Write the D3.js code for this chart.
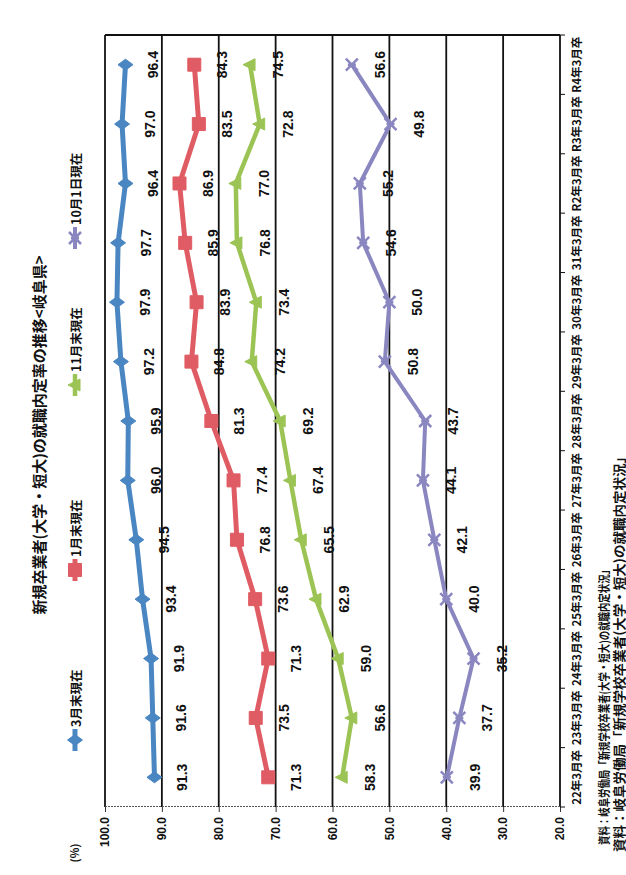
<!DOCTYPE html>
<html>
<head>
<meta charset="utf-8">
<title>新規卒業者の就職内定率の推移</title>
<script src="https://cdn.jsdelivr.net/npm/d3@7"></script>
<style>
  body { margin: 0; background: #fff; }
  text { font-family: "Noto Sans CJK JP", "Liberation Sans", sans-serif; font-weight: bold; fill: #111; }
  .num { font-family: "Liberation Sans Narrow", "Liberation Sans", Arial, sans-serif; }
</style>
</head>
<body>
<script>
// categories (graduation year) and series values
var categories = ["22年3月卒", "23年3月卒", "24年3月卒", "25年3月卒", "26年3月卒", "27年3月卒", "28年3月卒",
                  "29年3月卒", "30年3月卒", "31年3月卒", "R2年3月卒", "R3年3月卒", "R4年3月卒"];
var march = [91.3, 91.6, 91.9, 93.4, 94.5, 96.0, 95.9, 97.2, 97.9, 97.7, 96.4, 97.0, 96.4];
var january = [71.3, 73.5, 71.3, 73.6, 76.8, 77.4, 81.3, 84.8, 83.9, 85.9, 86.9, 83.5, 84.3];
var november = [58.3, 56.6, 59.0, 62.9, 65.5, 67.4, 69.2, 74.2, 73.4, 76.8, 77.0, 72.8, 74.5];
var october = [39.9, 37.7, 35.2, 40.0, 42.1, 44.1, 43.7, 50.8, 50.0, 54.6, 55.2, 49.8, 56.6];
var seriesNames = ["3月末現在", "1月末現在", "11月末現在", "10月1日現在"];
var yTicks = [20, 30, 40, 50, 60, 70, 80, 90, 100];

var seriesData = [march, january, november, october];
var colors = ["#4a86c1", "#e05c64", "#9cc455", "#8a86c0"];
var widths = [5, 5, 4.5, 4];
var markers = ["diamond", "square", "triangle", "x"];

// the scanned chart is turned on its side: draw it upright, then rotate
var W = 875, H = 626;
var margin = {top: 105, right: 35, bottom: 66, left: 68};
var plotW = W - margin.left - margin.right,
    plotH = H - margin.top - margin.bottom;

var svg = d3.select("body").append("svg")
  .attr("width", 626)
  .attr("height", 875);

svg.append("rect").attr("width", 626).attr("height", 875).attr("fill", "#fff");

var root = svg.append("g")
  .attr("transform", "translate(0," + W + ") rotate(-90)");

var g = root.append("g")
  .attr("transform", "translate(" + margin.left + "," + margin.top + ")");

var x = d3.scaleBand().domain(categories).range([0, plotW]);
var y = d3.scaleLinear().domain([20, 100]).range([plotH, 0]);
function cx(i) { return x(categories[i]) + x.bandwidth() / 2; }

// gridlines
g.selectAll(".grid").data(yTicks).enter().append("line")
  .attr("x1", 0).attr("x2", plotW)
  .attr("y1", function(d) { return y(d); })
  .attr("y2", function(d) { return y(d); })
  .attr("stroke", "#111").attr("stroke-width", 1.8);

// frame edge
g.append("line").attr("x1", plotW).attr("x2", plotW).attr("y1", 0).attr("y2", plotH)
  .attr("stroke", "#111").attr("stroke-width", 1.8);

// value axis
var yAxis = d3.axisLeft(y).tickValues(yTicks).tickFormat(d3.format(".1f")).tickSize(5).tickPadding(5);
var ya = g.append("g").call(yAxis);
ya.select(".domain").attr("stroke", "#555").attr("stroke-width", 1).attr("stroke-dasharray", "2,1");
ya.selectAll(".tick line").attr("stroke", "#333");
ya.selectAll("text").attr("class", "num").style("font-size", "12px").style("font-weight", "bold").attr("fill", "#111");

// category axis: ticks on band edges, labels at centres
var edges = categories.map(function(c) { return x(c); }).concat([plotW]);
g.selectAll(".ctick").data(edges).enter().append("line")
  .attr("x1", function(d) { return d; }).attr("x2", function(d) { return d; })
  .attr("y1", plotH).attr("y2", plotH + 5)
  .attr("stroke", "#111").attr("stroke-width", 1);
g.selectAll(".clab").data(categories).enter().append("text")
  .attr("x", function(d) { return x(d) + x.bandwidth() / 2; })
  .attr("y", plotH + 21)
  .attr("text-anchor", "middle")
  .style("font-size", "11.5px")
  .text(function(d) { return d; });

// marker shapes
function markerPath(type) {
  if (type === "diamond") return "M0,-7.5L5.5,0L0,7.5L-5.5,0Z";
  if (type === "square") return "M-6.5,-6.5H6.5V6.5H-6.5Z";
  if (type === "triangle") return "M0,-7L6,5H-6Z";
  return "M-6,-6L6,6M6,-6L-6,6M0,-4V4";
}
function drawMarker(sel, type, color) {
  var p = sel.append("path").attr("d", markerPath(type));
  if (type === "x") p.attr("fill", "none").attr("stroke", color).attr("stroke-width", 2.5);
  else p.attr("fill", color).attr("stroke", color).attr("stroke-width", 1);
}

var line = d3.line()
  .x(function(d, i) { return cx(i); })
  .y(function(d) { return y(d); });

seriesData.forEach(function(vals, s) {
  g.append("path")
    .attr("d", line(vals))
    .attr("fill", "none")
    .attr("stroke", colors[s])
    .attr("stroke-width", widths[s])
    .attr("stroke-linejoin", "round");
  vals.forEach(function(v, i) {
    var m = g.append("g").attr("transform", "translate(" + cx(i) + "," + y(v) + ")");
    drawMarker(m, markers[s], colors[s]);
  });
  // data labels sit below each point
  g.selectAll(".lab" + s).data(vals).enter().append("text")
    .attr("class", "num")
    .attr("x", function(d, i) { return cx(i); })
    .attr("y", function(d) { return y(d) + 28; })
    .attr("text-anchor", "middle")
    .attr("dominant-baseline", "central")
    .style("font-size", "14px")
    .text(function(d) { return d3.format(".1f")(d); });
});

// title
root.append("text")
  .attr("x", 440).attr("y", 45)
  .attr("text-anchor", "middle")
  .style("font-size", "15px")
  .text("新規卒業者(大学・短大)の就職内定率の推移<岐阜県>");

// (%) unit
root.append("text")
  .attr("x", 22).attr("y", 79)
  .attr("text-anchor", "middle")
  .style("font-size", "11px")
  .text("(%)");

// legend
var legendX = [135, 305, 490, 637];
seriesNames.forEach(function(name, s) {
  var lg = root.append("g").attr("transform", "translate(" + legendX[s] + ",75)");
  lg.append("line").attr("x1", -11).attr("x2", 11)
    .attr("stroke", colors[s]).attr("stroke-width", widths[s]);
  drawMarker(lg, markers[s], colors[s]);
  lg.append("text").attr("x", 13).attr("y", 0)
    .attr("dominant-baseline", "central")
    .style("font-size", "12.5px")
    .text(name);
});

// source notes (the scan shows the line twice)
root.append("text")
  .attr("x", 30).attr("y", 603)
  .attr("dominant-baseline", "central")
  .attr("textLength", 280).attr("lengthAdjust", "spacingAndGlyphs")
  .style("font-size", "12px")
  .text("資料：岐阜労働局「新規学校卒業者(大学・短大)の就職内定状況」");
root.append("text")
  .attr("x", 23).attr("y", 618)
  .attr("dominant-baseline", "central")
  .attr("textLength", 402).attr("lengthAdjust", "spacingAndGlyphs")
  .style("font-size", "13px")
  .text("資料：岐阜労働局「新規学校卒業者(大学・短大)の就職内定状況」");
</script>
</body>
</html>
